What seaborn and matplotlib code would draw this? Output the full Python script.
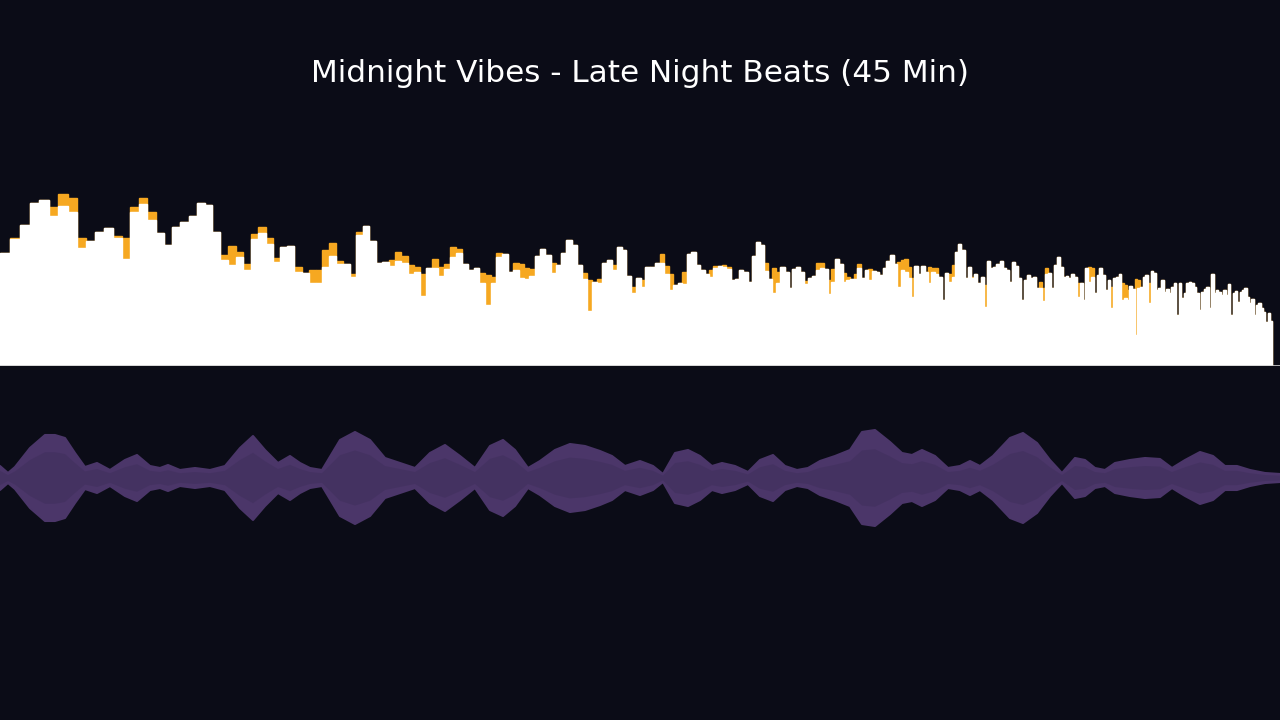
import numpy as np
import pandas as pd
import seaborn as sns
import matplotlib.pyplot as plt

# spectrum: one value per frequency bin (current level and held peak), in px of bar height
first_bin = 85
level = [
    113, 127, 141, 163, 166, 150, 160, 154, 118, 125, 134, 138, 128, 107, 154, 162, 146, 133, 121, 139,
    144, 150, 163, 161, 134, 106, 101, 109, 96, 127, 133, 122, 104, 119, 120, 94, 93, 83, 83, 99,
    110, 102, 102, 89, 131, 140, 125, 103, 104, 100, 105, 103, 92, 94, 70, 98, 98, 90, 97, 109,
    113, 102, 96, 98, 83, 61, 83, 109, 112, 94, 96, 88, 87, 90, 110, 117, 111, 93, 101, 113,
    126, 121, 101, 87, 55, 84, 83, 103, 106, 96, 119, 116, 90, 73, 88, 79, 99, 99, 103, 103,
    92, 76, 81, 83, 82, 112, 114, 101, 96, 92, 89, 98, 100, 99, 97, 86, 87, 96, 94, 84,
    110, 124, 121, 95, 87, 73, 83, 99, 94, 78, 97, 99, 94, 82, 88, 90, 96, 98, 97, 72,
    84, 107, 102, 84, 86, 87, 87, 98, 88, 96, 86, 95, 94, 91, 98, 105, 111, 102, 79, 96,
    94, 88, 69, 100, 92, 100, 94, 83, 94, 92, 89, 66, 93, 84, 89, 114, 122, 116, 88, 99,
    88, 92, 83, 89, 59, 105, 98, 99, 102, 105, 98, 96, 84, 104, 100, 88, 66, 86, 91, 88,
    89, 78, 78, 65, 92, 93, 78, 101, 109, 99, 89, 90, 88, 92, 89, 69, 83, 66, 98, 84,
    89, 73, 91, 98, 91, 76, 86, 58, 88, 89, 92, 66, 68, 66, 80, 77, 31, 78, 79, 89,
    91, 63, 95, 93, 76, 78, 86, 74, 77, 73, 79, 83, 51, 83, 68, 73, 83, 84, 83, 79,
    73, 56, 74, 77, 79, 58, 92, 73, 76, 74, 71, 76, 71, 82, 51, 73, 75, 64, 74, 76,
    78, 69, 63, 67, 51, 61, 63, 58, 54, 44, 53, 45,
]
peak = [
    113, 128, 141, 163, 166, 159, 172, 168, 128, 125, 134, 138, 130, 128, 159, 168, 154, 133, 121, 139,
    144, 150, 163, 161, 134, 111, 120, 114, 102, 132, 139, 128, 108, 119, 120, 99, 93, 96, 96, 116,
    123, 105, 102, 92, 134, 140, 125, 103, 104, 106, 114, 110, 101, 99, 92, 98, 107, 99, 102, 119,
    117, 102, 96, 98, 93, 91, 89, 113, 112, 94, 103, 102, 98, 97, 110, 117, 111, 103, 101, 113,
    126, 121, 101, 93, 86, 84, 87, 103, 106, 101, 119, 116, 90, 79, 88, 86, 99, 99, 103, 112,
    100, 92, 81, 83, 94, 112, 114, 101, 96, 92, 96, 100, 100, 101, 99, 86, 87, 96, 94, 84,
    110, 124, 121, 103, 87, 98, 94, 99, 94, 78, 97, 99, 94, 85, 88, 90, 103, 103, 97, 86,
    97, 107, 102, 93, 89, 87, 92, 102, 88, 96, 97, 95, 94, 91, 98, 105, 111, 102, 104, 106,
    107, 99, 88, 100, 92, 100, 94, 99, 98, 98, 89, 66, 93, 92, 101, 114, 122, 116, 88, 99,
    89, 92, 83, 89, 81, 105, 98, 99, 102, 105, 98, 96, 84, 104, 100, 88, 66, 86, 91, 88,
    89, 78, 84, 78, 98, 93, 78, 101, 109, 99, 89, 90, 88, 92, 89, 83, 83, 66, 98, 99,
    98, 73, 91, 98, 91, 76, 86, 79, 88, 89, 92, 83, 81, 76, 80, 77, 87, 86, 79, 89,
    91, 83, 95, 93, 76, 78, 86, 74, 77, 73, 79, 83, 51, 83, 68, 73, 83, 84, 83, 79,
    73, 56, 74, 77, 79, 58, 92, 73, 76, 74, 71, 76, 71, 82, 51, 73, 75, 64, 74, 76,
    78, 69, 63, 67, 51, 61, 63, 58, 54, 44, 53, 45,
]

# waveform envelope: time position along the track and half amplitude
wave_t = [
    0, 8, 15, 30, 45, 55, 65, 75, 85, 97, 110, 125, 137, 150, 160, 168, 180, 195, 210, 225,
    240, 253, 265, 278, 290, 300, 310, 322, 340, 355, 370, 385, 400, 415, 430, 445, 460, 475, 490, 503,
    515, 528, 540, 555, 570, 585, 600, 612, 625, 640, 653, 663, 675, 688, 700, 712, 722, 735, 748, 760,
    773, 785, 797, 808, 820, 835, 850, 862, 875, 890, 902, 912, 922, 935, 948, 960, 970, 980, 993, 1010,
    1023, 1037, 1050, 1062, 1075, 1085, 1095, 1105, 1115, 1130, 1145, 1160, 1172, 1185, 1200, 1213, 1225, 1237, 1250, 1265,
    1280,
]
wave_amp = [
    12, 5, 11, 30, 43, 43, 40, 25, 11, 15, 8, 18, 23, 12, 10, 13, 8, 10, 8, 12,
    30, 42, 28, 15, 22, 15, 10, 8, 38, 46, 38, 20, 15, 10, 25, 33, 22, 10, 32, 38,
    28, 10, 17, 28, 34, 32, 27, 22, 12, 17, 12, 4, 25, 28, 22, 12, 15, 12, 6, 18,
    23, 12, 8, 10, 17, 22, 28, 46, 48, 36, 25, 23, 28, 22, 10, 12, 17, 12, 22, 40,
    45, 35, 18, 5, 20, 18, 10, 8, 15, 18, 20, 19, 10, 18, 26, 22, 12, 12, 8, 5,
    4,
]

title = 'Midnight Vibes - Late Night Beats (45 Min)'

bg = '#0b0c17'
sns.set_theme(style='dark', rc={'figure.facecolor': bg, 'axes.facecolor': bg})
plt.rcParams['font.family'] = ['DejaVu Sans']

fig = plt.figure(figsize=(12.8, 7.2), dpi=100)

# spectrum bars: linear FFT bins drawn on a log frequency axis
df = pd.DataFrame({'bin': np.arange(first_bin, first_bin + len(level)) + 0.5,
                   'level': level, 'peak': peak})
bin_edges = list(np.log10(np.arange(first_bin, first_bin + len(level) + 1)))

ax = fig.add_axes([0, (720 - 366) / 720, 1, 216 / 720])
sns.histplot(data=df, x='bin', weights='peak', bins=bin_edges, log_scale=True,
             color='#f6a821', alpha=1, linewidth=1.0, edgecolor='#f6a821', ax=ax)
sns.histplot(data=df, x='bin', weights='level', bins=bin_edges, log_scale=True,
             color='white', alpha=1, linewidth=1.0, edgecolor='white', ax=ax)
ax.axhline(0, color='#cfcfcf', lw=1.2)
ax.set_xlim(first_bin, 380.5)
ax.set_ylim(0, 216)
ax.set_axis_off()

# waveform
ax2 = fig.add_axes([0, (720 - 536) / 720, 1, 116 / 720])
t = np.array(wave_t)
a = np.array(wave_amp)
ax2.fill_between(t, -a, a, color='#4b3669', lw=0)
ax2.fill_between(t, -a * 0.6, a * 0.6, color='#433160', lw=0, alpha=0.8)
sns.lineplot(x=t, y=a, color='#4b3669', lw=1.5, ax=ax2)
sns.lineplot(x=t, y=-a, color='#4b3669', lw=1.5, ax=ax2)
ax2.set_xlim(0, 1280)
ax2.set_ylim(-58, 58)
ax2.set_axis_off()

fig.text(0.5, 1 - 73 / 720, title, ha='center', va='center', fontsize=22.4, color='white')

plt.savefig('out.png', dpi=100, facecolor=bg)
